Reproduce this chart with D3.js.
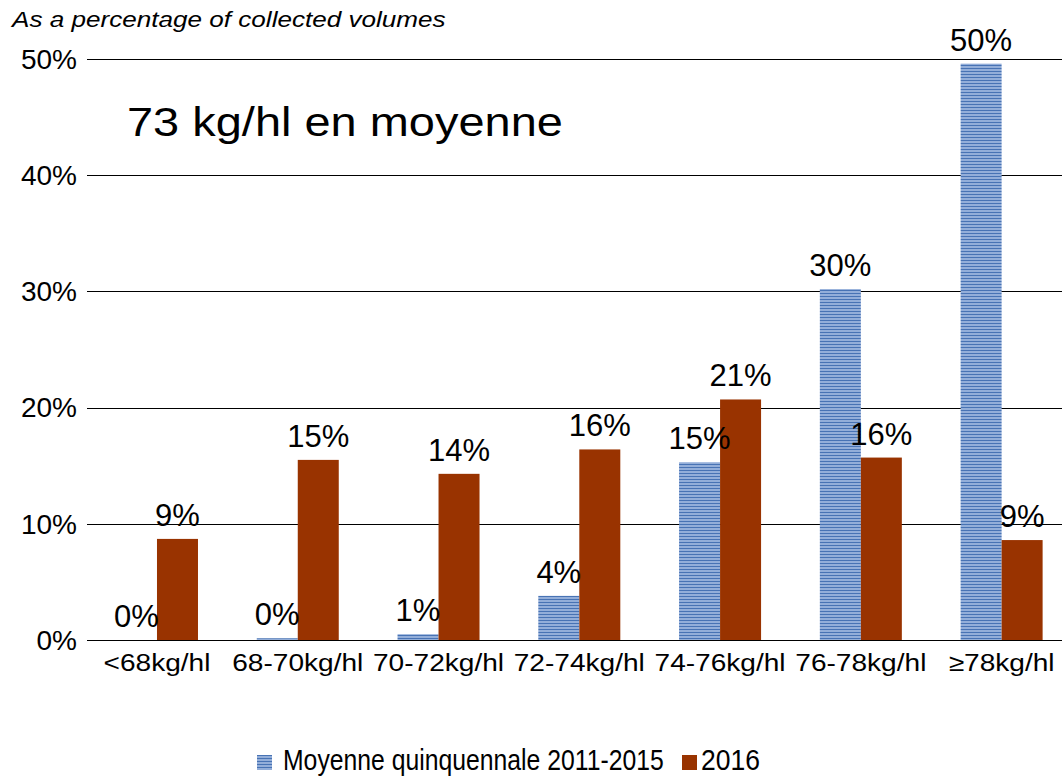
<!DOCTYPE html>
<html>
<head>
<meta charset="utf-8">
<script src="https://cdn.jsdelivr.net/npm/d3@7"></script>
<style>
  body { margin: 0; background: #fff; }
  svg { display: block; font-family: "Liberation Sans", Arial, sans-serif; }
</style>
</head>
<body>
<svg id="chart" width="1062" height="777"></svg>
<script>
// data
var categories = ["<68kg/hl", "68-70kg/hl", "70-72kg/hl", "72-74kg/hl", "74-76kg/hl", "76-78kg/hl", "\u226578kg/hl"]
var series = ["Moyenne quinquennale 2011-2015", "2016"]
var avgValues = [0, 0.15, 0.5, 3.8, 15.3, 30.2, 49.6]
var valueLabelsAvg = ["0%", "0%", "1%", "4%", "15%", "30%", "50%"]
var values2016 = [8.7, 15.5, 14.3, 16.4, 20.7, 15.7, 8.6]
var valueLabels2016 = ["9%", "15%", "14%", "16%", "21%", "16%", "9%"]
var yTicks = [0, 10, 20, 30, 40, 50]

var svg = d3.select("#chart")
var width = 1062

var x0 = d3.scaleBand()
    .domain(categories)
    .range([86.6, 1072])
    .padding(0)
var bw = x0.bandwidth()
var x1 = d3.scaleBand()
    .domain(series)
    .range([bw / 2 - 41, bw / 2 + 41])
    .padding(0)
var y = d3.scaleLinear()
    .domain([0, 50])
    .range([640, 59])

// text squeezed/stretched horizontally around its anchor
function label(parent, x, yy, str, size, fx, anchor) {
    return parent.append("text")
        .attr("transform", "translate(" + x + "," + yy + ") scale(" + fx + ",1)")
        .attr("text-anchor", anchor || "start")
        .attr("font-size", size)
        .attr("fill", "#000")
        .text(str)
}

// stripe pattern for the five-year average
var defs = svg.append("defs")
var pat = defs.append("pattern")
    .attr("id", "stripes")
    .attr("patternUnits", "userSpaceOnUse")
    .attr("width", 6)
    .attr("height", 3)
pat.append("rect").attr("width", 6).attr("height", 3).attr("fill", "#93aed9")
pat.append("rect").attr("y", 2).attr("width", 6).attr("height", 1).attr("fill", "#4873b4")

// grid lines
svg.append("g")
    .selectAll("line")
    .data(yTicks)
    .join("line")
    .attr("x1", 87)
    .attr("x2", width)
    .attr("y1", function(d) { return Math.round(y(d)) + 0.5 })
    .attr("y2", function(d) { return Math.round(y(d)) + 0.5 })
    .attr("stroke", "#000")
    .attr("stroke-width", 1)

// y axis labels
svg.append("g")
    .selectAll("text")
    .data(yTicks)
    .join("text")
    .attr("x", 77)
    .attr("y", function(d) { return y(d) })
    .attr("dy", "0.35em")
    .attr("text-anchor", "end")
    .attr("font-size", 28)
    .attr("fill", "#000")
    .text(function(d) { return d + "%" })

var rows = categories.map(function(c, i) {
    return {cat: c, avg: avgValues[i], v16: values2016[i], la: valueLabelsAvg[i], l16: valueLabels2016[i]}
})

var groups = svg.append("g")
    .selectAll("g")
    .data(rows)
    .join("g")
    .attr("transform", function(d) { return "translate(" + x0(d.cat) + ",0)" })

groups.append("rect")
    .attr("x", x1(series[0]))
    .attr("width", x1.bandwidth())
    .attr("y", function(d) { return y(d.avg) })
    .attr("height", function(d) { return y(0) - y(d.avg) })
    .attr("fill", "url(#stripes)")

groups.append("rect")
    .attr("x", x1(series[1]))
    .attr("width", x1.bandwidth())
    .attr("y", function(d) { return y(d.v16) })
    .attr("height", function(d) { return y(0) - y(d.v16) })
    .attr("fill", "#993300")

groups.append("text")
    .attr("x", x1(series[0]) + x1.bandwidth() / 2)
    .attr("y", function(d) { return y(d.avg) - 13 })
    .attr("text-anchor", "middle")
    .attr("font-size", 31)
    .text(function(d) { return d.la })

groups.append("text")
    .attr("x", x1(series[1]) + x1.bandwidth() / 2)
    .attr("y", function(d) { return y(d.v16) - 13 })
    .attr("text-anchor", "middle")
    .attr("font-size", 31)
    .text(function(d) { return d.l16 })

// x axis labels (wider than the font's natural width)
var xl = svg.append("g")
categories.forEach(function(c) {
    label(xl, x0(c) + bw / 2, 671, c, 24, 1.17, "middle")
})

// subtitle and note
var sub = label(svg, 12, 27, "As a percentage of collected volumes", 22, 1.0)
sub.attr("font-style", "italic")
sub.attr("transform", "translate(12,27) scale(" + (434 / sub.node().getComputedTextLength()) + ",1)")

var ttl = label(svg, 127, 136, "73 kg/hl en moyenne", 40, 1.0)
ttl.attr("transform", "translate(127,136) scale(" + (436 / ttl.node().getComputedTextLength()) + ",1)")

// legend
var legend = svg.append("g")
legend.append("rect").attr("x", 257).attr("y", 755).attr("width", 15).attr("height", 15).attr("fill", "url(#stripes)")
var l1 = label(legend, 283, 770, series[0], 29, 1.0)
l1.attr("transform", "translate(283,770) scale(" + (381 / l1.node().getComputedTextLength()) + ",1)")
legend.append("rect").attr("x", 682).attr("y", 755).attr("width", 15).attr("height", 15).attr("fill", "#993300")
var l2 = label(legend, 701, 770, series[1], 29, 1.0)
l2.attr("transform", "translate(701,770) scale(" + (59 / l2.node().getComputedTextLength()) + ",1)")
</script>
</body>
</html>
